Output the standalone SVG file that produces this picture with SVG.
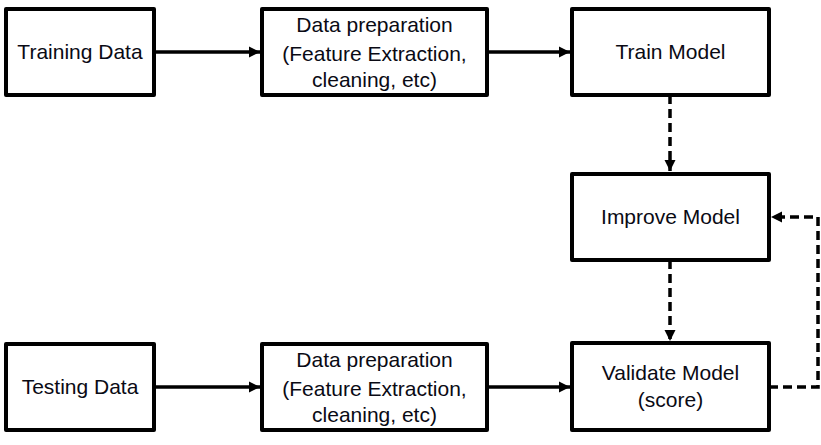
<svg xmlns="http://www.w3.org/2000/svg" width="821" height="445" viewBox="0 0 821 445">
<style>
.box{fill:#fff;stroke:#000;stroke-width:4;stroke-linejoin:round}
.t{font-family:"Liberation Sans",Arial,sans-serif;font-size:21px;fill:#0a0a14;text-anchor:middle}
.c{fill:none;stroke:#000;stroke-width:3.5}
.d{stroke-dasharray:9,5}
</style>
<defs>
<marker id="ah" markerUnits="userSpaceOnUse" markerWidth="12" markerHeight="12" viewBox="0 0 12 12" refX="11" refY="6" orient="auto">
<path d="M0,0.5 L11,6 L0,11.5 Z" fill="#000"/>
</marker>
</defs>
<g id="connectors">
<path class="c" d="M154,52 H260" marker-end="url(#ah)"/>
<path class="c" d="M487,52 H570" marker-end="url(#ah)"/>
<path class="c d" d="M670,95 V171" marker-end="url(#ah)"/>
<path class="c d" d="M670,260 V341" marker-end="url(#ah)"/>
<path class="c" d="M154,387 H260" marker-end="url(#ah)"/>
<path class="c" d="M487,387 H570" marker-end="url(#ah)"/>
<path class="c d" d="M769,387 H818 V217 H771" marker-end="url(#ah)"/>
</g>
<g id="training-data">
<rect class="box" x="6" y="9" width="148" height="86"/>
<text class="t" x="80" y="59">Training Data</text>
</g>
<g id="data-prep-1">
<rect class="box" x="262" y="9" width="225" height="86"/>
<text class="t" x="374.5" y="32">Data preparation</text>
<text class="t" x="374.5" y="61">(Feature Extraction,</text>
<text class="t" x="374.5" y="87">cleaning, etc)</text>
</g>
<g id="train-model">
<rect class="box" x="572" y="9" width="197" height="86"/>
<text class="t" x="670.5" y="59">Train Model</text>
</g>
<g id="improve-model">
<rect class="box" x="572" y="174" width="197" height="86"/>
<text class="t" x="670.5" y="224">Improve Model</text>
</g>
<g id="testing-data">
<rect class="box" x="6" y="344" width="148" height="86"/>
<text class="t" x="80" y="394">Testing Data</text>
</g>
<g id="data-prep-2">
<rect class="box" x="262" y="344" width="225" height="86"/>
<text class="t" x="374.5" y="367">Data preparation</text>
<text class="t" x="374.5" y="396">(Feature Extraction,</text>
<text class="t" x="374.5" y="422">cleaning, etc)</text>
</g>
<g id="validate-model">
<rect class="box" x="572" y="343" width="197" height="87"/>
<text class="t" x="670.5" y="380">Validate Model</text>
<text class="t" x="670.5" y="407">(score)</text>
</g>
</svg>
